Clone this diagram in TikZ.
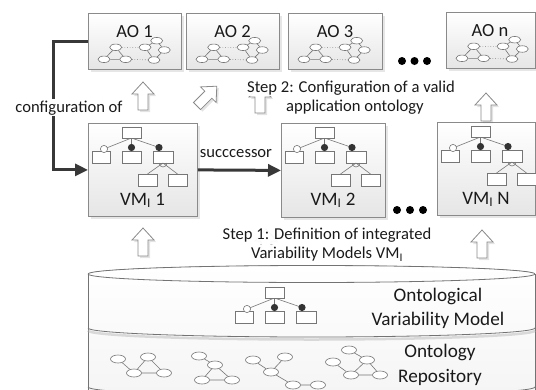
\documentclass[tikz,border=0pt]{standalone}
\usepackage{fontspec}
\setmainfont{Carlito}
\usetikzlibrary{shadows,arrows.meta,shapes.geometric}
\definecolor{txt}{HTML}{1A1A1A}
\definecolor{conncol}{HTML}{383838}
\definecolor{edgecol}{HTML}{767676}
\definecolor{boxline}{HTML}{8A8A8A}
\tikzset{
  panel/.style={draw=boxline, line width=0.8pt, top color=white, bottom color=black!10,
    drop shadow={opacity=0.2, shadow xshift=2.5pt, shadow yshift=-2.5pt}, inner sep=0pt, anchor=north west},
  ttl/.style={text=txt, font=\fontsize{18.5}{22}\selectfont, anchor=base, inner sep=0pt},
  vml/.style={text=txt, font=\fontsize{19}{22}\selectfont, anchor=base, inner sep=0pt},
  lbl/.style={text=txt, font=\fontsize{16.6}{19.5}\selectfont, inner sep=1.5pt, anchor=base},
  cyltxt/.style={text=txt, font=\fontsize{19.2}{24}\selectfont, inner sep=0pt, anchor=base},
  conn/.style={draw=conncol, line width=3pt, -{Triangle[length=13pt,width=12pt]}},
  gell/.style={ellipse, draw=edgecol, fill=white, line width=0.6pt, minimum width=12pt, minimum height=6.5pt, inner sep=0pt},
  rell/.style={ellipse, draw=edgecol, fill=white, line width=0.6pt, minimum width=15pt, minimum height=8pt, inner sep=0pt},
  gedge/.style={draw=edgecol, line width=0.6pt},
  gdot/.style={draw=edgecol, line width=0.6pt, dotted},
  frect/.style={draw=edgecol, fill=white, line width=0.7pt, drop shadow={opacity=0.18, shadow xshift=1.2pt, shadow yshift=-1.2pt}},
  blk/.style={draw=boxline, line width=0.8pt, fill=white, drop shadow={opacity=0.22, shadow xshift=2pt, shadow yshift=-2pt}},
  cyl/.style={draw=black!55, line width=0.8pt},
  bigdot/.style={fill=black},
  veil/.style={fill=white, fill opacity=0.94, text opacity=1},
  aograph/.pic={
    \node[gell] (-a) at (27.7,34.3) {};
    \node[gell] (-b) at (16,46.3) {};
    \node[gell] (-c) at (37.7,46.3) {};
    \node[gell] (-d) at (57,34.3) {};
    \node[gell] (-e) at (68.7,27.7) {};
    \node[gell] (-f) at (76.3,37) {};
    \node[gell] (-g) at (66,47) {};
    \draw[gedge] (-a)--(-b) (-a)--(-c) (-b)--(-c) (-d)--(-e) (-e)--(-f) (-f)--(-g) (-d)--(-g);
    \draw[gdot] (-a)--(-d) (-c)--(-g);
  },
  fmtop/.pic={
    \draw[gedge] (43.5,15) -- (16,26) (43.5,15) -- (43.5,24.5) (43.5,15) -- (71,24.5);
    \draw[frect] (34,4) rectangle (53,15);
    \draw[frect] (4,28) rectangle (22,40);
    \draw[frect] (34,28) rectangle (53,40);
    \draw[frect] (65,28) rectangle (85,40);
    \draw[gedge,fill=white] (16,26) circle[radius=3.6pt];
    \fill[black!80] (43.5,24.5) circle[radius=3.6pt] (71,24.5) circle[radius=3.6pt];
  },
  fmfull/.pic={
    \pic {fmtop};
    \draw[gedge] (75,40) -- (59.5,51) (75,40) -- (89.5,51);
    \draw[gedge] (71,40) arc[start angle=180, end angle=360, radius=4pt];
    \draw[frect] (50,51) rectangle (69,63);
    \draw[frect] (80,51) rectangle (99,63);
  },
  blockarr/.pic={
    \draw[blk] (-5,0) -- (-5,-16) -- (-11,-16) -- (0,-28) -- (11,-16) -- (5,-16) -- (5,0) -- cycle;
  },
}
\begin{document}
\begin{tikzpicture}[x=1pt,y=-1pt]
\useasboundingbox (0,0) rectangle (536,389);

% ---------- cylinder ----------
\fill[top color=white, bottom color=black!4] (88,274) arc[start angle=180,end angle=0,x radius=223.5pt,y radius=8.5pt] -- (535,395) -- (88,395) -- cycle;
\draw[cyl] (88,274) arc[start angle=180,end angle=0,x radius=223.5pt,y radius=8.5pt];
\draw[cyl] (88,274) arc[start angle=180,end angle=360,x radius=223.5pt,y radius=8.5pt];
\draw[cyl] (88,274) -- (88,395);
\draw[cyl] (535,274) -- (535,395);
\draw[black!30, line width=2.5pt, opacity=0.45] (88,330.5) arc[start angle=180,end angle=360,x radius=223.5pt,y radius=9pt];
\draw[cyl] (88,328) arc[start angle=180,end angle=360,x radius=223.5pt,y radius=9pt];
\draw[cyl] (88,387) arc[start angle=180,end angle=360,x radius=223.5pt,y radius=9pt];

\pic at (231,283) {fmtop};
\node[cyltxt] (ovm1) at (438,301) {Ontological};
\node[cyltxt] (ovm2) at (438,325) {Variability Model};
\node[cyltxt] (or1) at (440,357) {Ontology};
\node[cyltxt] (or2) at (440,382) {Repository};

% repository graphs
\node[rell] (p1) at (118,359) {};
\node[rell] (p2) at (148,357) {};
\node[rell] (p3) at (134,373) {};
\node[rell] (p4) at (164,373) {};
\draw[gedge] (p1)--(p3) (p2)--(p3) (p2)--(p4) (p3)--(p4);
\node[rell] (q1) at (199,356) {};
\node[rell] (q2) at (215,365) {};
\node[rell] (q3) at (202,380) {};
\node[rell] (q4) at (232,380) {};
\draw[gedge] (q1)--(q2) (q2)--(q3) (q2)--(q4) (q3)--(q4);
\node[rell] (r1) at (253,360) {};
\node[rell] (r2) at (271,372) {};
\node[rell] (r3) at (285,357) {};
\node[rell] (r4) at (293,385) {};
\node[rell] (r5) at (318,385) {};
\draw[gedge] (r1)--(r2) (r2)--(r3) (r2)--(r4) (r4)--(r5);
\node[rell] (s1) at (349,350) {};
\node[rell] (s2) at (333,362) {};
\node[rell] (s3) at (367,360) {};
\node[rell] (s4) at (351,375) {};
\node[rell] (s5) at (380,375) {};
\draw[gedge] (s1)--(s3) (s2)--(s4) (s3)--(s4) (s3)--(s5) (s4)--(s5);

% ---------- AO panels ----------
\node[panel, minimum width=93, minimum height=56] (ao1) at (88,13) {};
\node[panel, minimum width=93, minimum height=56] (ao2) at (186,13) {};
\node[panel, minimum width=94, minimum height=56] (ao3) at (288,13) {};
\node[panel, minimum width=88.5, minimum height=56] (aon) at (446,12) {};
\pic (g1) at (ao1.north west) {aograph};
\pic (g2) at (ao2.north west) {aograph};
\pic (g3) at (ao3.north west) {aograph};
\pic (gn) at (aon.north west) {aograph};
\node[ttl] (ao1t) at (134.5,37) {AO 1};
\node[ttl] (ao2t) at (232.5,37) {AO 2};
\node[ttl] (ao3t) at (335,37) {AO 3};
\node[ttl] (aont) at (490,36) {AO n};
\fill[bigdot] (402,61) circle[radius=4pt] (414.5,61) circle[radius=4pt] (427,61) circle[radius=4pt];

% ---------- VM panels ----------
\node[panel, minimum width=109, minimum height=93] (vm1) at (88,123) {};
\node[panel, minimum width=104, minimum height=94] (vm2) at (281,123) {};
\node[panel, minimum width=98, minimum height=93] (vmn) at (437,122) {};
\pic at (vm1.north west) {fmfull};
\pic at (vm2.north west) {fmfull};
\pic at (vmn.north west) {fmfull};
\node[vml] (vm1t) at (142.5,205) {VM\textsubscript{I} 1};
\node[vml] (vm2t) at (333,205) {VM\textsubscript{I} 2};
\node[vml] (vmnt) at (486,204) {VM\textsubscript{I} N};
\fill[bigdot] (397,210) circle[radius=4pt] (410,210) circle[radius=4pt] (423,210) circle[radius=4pt];

% ---------- block arrows ----------
\pic at (143,110) {blockarr};
\pic[rotate=-45] at (197,106) {blockarr};
\pic at (260,113) {blockarr};
\pic at (486,121) {blockarr};
\pic at (143,256) {blockarr};
\pic at (266,257) {blockarr};
\pic at (482,258) {blockarr};

% ---------- connectors ----------
\draw[conn] (ao1.west) -- ++(-35,0) |- (vm1.west);
\draw[conn] (vm1.east) -- (vm2.west);
\node[lbl, fill=white] (cfg) at (69,112) {configuration of};
\node[lbl] (succ) at (236,157) {succcessor};

% ---------- step texts ----------
\node[lbl, veil, inner xsep=4pt] (s2a) at (351,92) {Step 2: Configuration of a valid};
\node[lbl, veil, inner xsep=4pt] (s2b) at (355,111.5) {application ontology};
\node[lbl, veil, inner xsep=4pt] (s1a) at (327,239.5) {Step 1: Definition of integrated};
\node[lbl, veil, inner xsep=4pt] (s1b) at (327,258.5) {Variability Models VM\textsubscript{I}};
\end{tikzpicture}
\end{document}
